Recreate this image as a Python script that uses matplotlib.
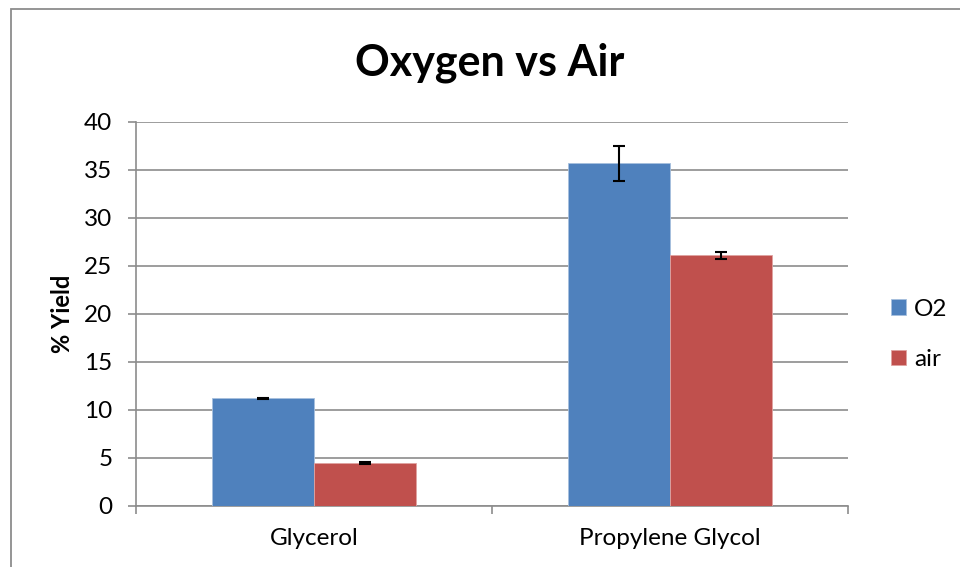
import numpy as np
import matplotlib
matplotlib.use('agg')
import matplotlib.pyplot as plt
from matplotlib.patches import Rectangle

plt.rcParams['font.family'] = ['Lato', 'DejaVu Sans']

categories = ['Glycerol', 'Propylene Glycol']
series = ['O2', 'air']
o2_yield = [11.2, 35.7]
o2_err = [0.1, 1.8]
air_yield = [4.5, 26.1]
air_err = [0.1, 0.4]
colors = ['#4F81BD', '#C0504D']
yticks = [0, 5, 10, 15, 20, 25, 30, 35, 40]

fig = plt.figure(figsize=(9.6, 5.67), dpi=100)
ax = fig.add_axes([136/960, 61/567, 712/960, 384/567])

# outer chart frame, open to the right and bottom
fig.patches.append(Rectangle((11/960, -0.2), 2.0, 1.2 - 9/567,
                             transform=fig.transFigure, fill=False,
                             edgecolor='#8c8c8c', lw=1.3))

x = np.arange(len(categories))
w = 1 / 3.5
ekw = dict(ecolor='black', elinewidth=1.5, capthick=1.5, capsize=4.5)
ax.bar(x - w/2, o2_yield, w, yerr=o2_err, color=colors[0],
       edgecolor='#a7c0de', linewidth=0.6, label=series[0], error_kw=ekw, zorder=3)
ax.bar(x + w/2, air_yield, w, yerr=air_err, color=colors[1],
       edgecolor='#e0a3a1', linewidth=0.6, label=series[1], error_kw=ekw, zorder=3)

ax.set_xlim(-0.5, len(categories) - 0.5)
ax.set_ylim(0, 40)
ax.set_yticks(yticks)
ax.yaxis.grid(True, color='#8c8c8c', lw=1.2, zorder=0)
ax.set_axisbelow(True)

ax.set_xticks(x)
ax.set_xticklabels(categories)
ax.set_xticks(np.arange(-0.5, len(categories)), minor=True)
ax.tick_params(axis='x', which='major', length=0, pad=16, labelsize=17.5)
ax.tick_params(axis='x', which='minor', length=6, width=1.2, color='#8c8c8c', direction='out')
ax.tick_params(axis='y', length=6, width=1.2, color='#8c8c8c', labelsize=17.5, pad=11)

for s in ['top', 'right']:
    ax.spines[s].set_visible(False)
for s in ['left', 'bottom']:
    ax.spines[s].set_color('#8c8c8c')
    ax.spines[s].set_linewidth(1.2)

ax.set_ylabel('% Yield', fontsize=17, fontweight='bold', labelpad=7)
fig.text(490/960, 1 - 63/567, 'Oxygen vs Air', ha='center', va='center',
         fontsize=31, fontweight='bold')

ax.legend(loc='center left', bbox_to_anchor=(1.03, 0.447), frameon=False,
          fontsize=17.5, handlelength=0.6, handleheight=0.6, handletextpad=0.35,
          labelspacing=1.2)

plt.savefig('out.png', dpi=100)
plt.close()
